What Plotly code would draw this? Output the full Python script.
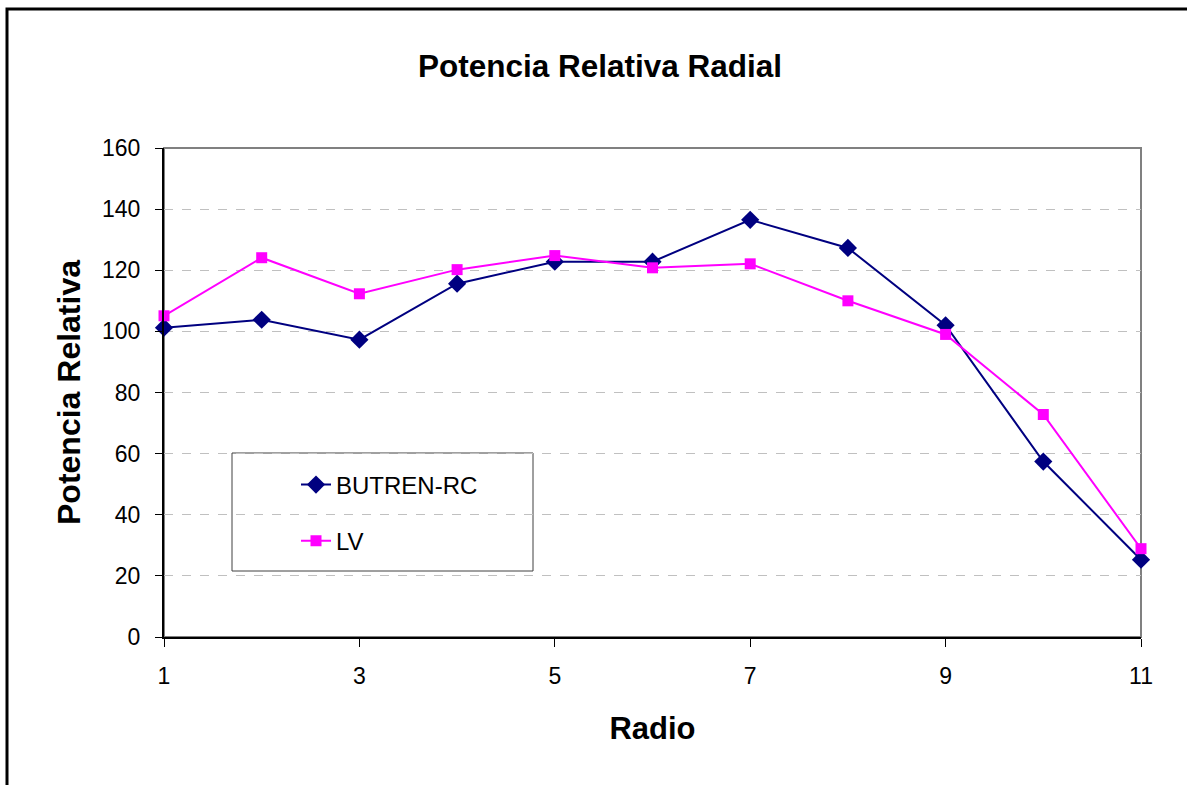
import plotly.graph_objects as go

radio = [1, 2, 3, 4, 5, 6, 7, 8, 9, 10, 11]
butren_rc = [101.2, 103.8, 97.3, 115.6, 122.8, 122.8, 136.5, 127.3, 102.0, 57.4, 25.3]
lv = [105.1, 124.1, 112.3, 120.2, 124.8, 120.8, 122.1, 110.0, 99.0, 72.8, 28.9]

x_ticks = [1, 3, 5, 7, 9, 11]
y_ticks = [0, 20, 40, 60, 80, 100, 120, 140, 160]

FONT = "Liberation Sans, Arial, sans-serif"
W, H = 1187, 785
ML, MR, MT, MB = 164, 46, 148, 148
PW, PH = W - ML - MR, H - MT - MB


def px_x(p):
    return (p - ML) / PW


def px_y(p):
    return (H - MB - p) / PH


fig = go.Figure()
fig.add_trace(go.Scatter(
    x=radio, y=butren_rc, name="BUTREN-RC", mode="lines+markers",
    line=dict(color="#000080", width=2),
    marker=dict(symbol="diamond", size=14, color="#000080"),
    cliponaxis=False, legendgroup="a",
))
fig.add_trace(go.Scatter(
    x=radio, y=lv, name="LV", mode="lines+markers",
    line=dict(color="#FF00FF", width=2),
    marker=dict(symbol="square", size=11, color="#FF00FF"),
    cliponaxis=False, legendgroup="b",
))

fig.update_layout(
    width=W, height=H,
    margin=dict(l=ML, r=MR, t=MT, b=MB, pad=0),
    paper_bgcolor="white", plot_bgcolor="white",
    font=dict(family=FONT, color="black", size=23),
    title=dict(text="<b>Potencia Relativa Radial</b>", x=600 / W, xanchor="center",
               y=1 - 66 / H, yanchor="middle", font=dict(size=31.5, family=FONT)),
    showlegend=True,
    legend=dict(
        x=px_x(296), y=px_y(513), xanchor="left", yanchor="middle",
        bgcolor="rgba(0,0,0,0)", borderwidth=0,
        font=dict(size=24, family=FONT),
        tracegroupgap=22, indentation=0,
        traceorder="grouped",
    ),
    xaxis=dict(
        range=[1, 11], tickvals=x_ticks, ticktext=[str(v) for v in x_ticks],
        showgrid=False, zeroline=False,
        showline=True, linecolor="black", linewidth=2,
        ticks="outside", ticklen=8, tickcolor="black", tickwidth=1,
        ticklabelstandoff=9,
        tickfont=dict(size=23, family=FONT),
        title=dict(text="<b>Radio</b>", font=dict(size=31, family=FONT), standoff=30),
    ),
    yaxis=dict(
        range=[0, 160], tickvals=y_ticks, ticktext=[str(v) for v in y_ticks],
        showgrid=True, gridcolor="#c0c0c0", griddash="dash", gridwidth=1,
        zeroline=False,
        showline=True, linecolor="black", linewidth=2,
        ticks="outside", ticklen=7, tickcolor="black", tickwidth=1,
        ticklabelstandoff=10,
        tickfont=dict(size=23, family=FONT),
        title=dict(text="<b>Potencia Relativa</b>", font=dict(size=32, family=FONT), standoff=12),
    ),
    shapes=[
        dict(type="rect", xref="paper", yref="paper", x0=0, x1=1, y0=0, y1=1,
             line=dict(color="#808080", width=2), layer="below"),
        dict(type="rect", xref="paper", yref="paper",
             x0=px_x(232), x1=px_x(533), y0=px_y(571), y1=px_y(453),
             line=dict(color="#404040", width=1), fillcolor="white", layer="between"),
        dict(type="rect", xref="paper", yref="paper",
             x0=px_x(7), x1=px_x(1400), y0=px_y(900), y1=px_y(9),
             line=dict(color="black", width=3), layer="above"),
    ],
)

fig.write_html("out.html")
